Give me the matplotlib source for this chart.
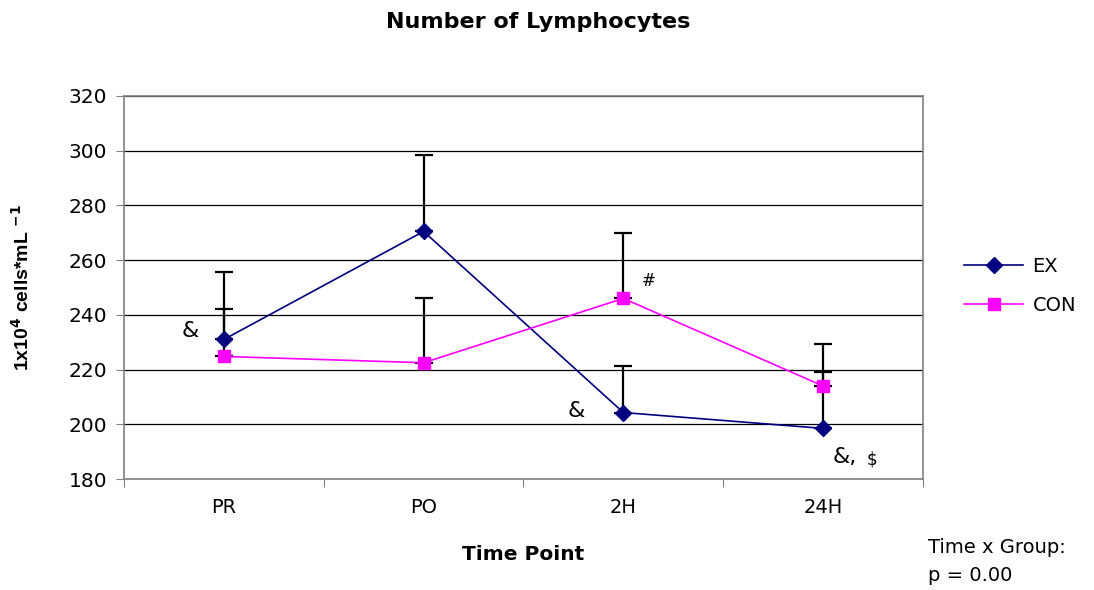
import numpy as np
import matplotlib.pyplot as plt

# the reference text is wide, DejaVu Sans gets closer than Arial-like fonts
plt.rcParams['font.family'] = ['DejaVu Sans']

# data
time_points = ['PR', 'PO', '2H', '24H']
ex_mean = [231.0, 270.5, 204.3, 198.5]
ex_err = [24.5, 28.0, 17.0, 20.5]
con_mean = [224.8, 222.5, 246.0, 214.0]
con_err = [17.5, 23.5, 24.0, 15.5]

x = np.arange(len(time_points))

fig = plt.figure(figsize=(10.94, 5.90), dpi=100)
ax = fig.add_axes([0.1133, 0.1881, 0.7304, 0.6492])

# error bars (upper only), drawn under the markers
ax.errorbar(x, ex_mean, yerr=[np.zeros(4), ex_err], fmt='none', ecolor='black',
            elinewidth=1.6, capsize=6.5, capthick=1.6, zorder=3)
ax.errorbar(x, con_mean, yerr=[np.zeros(4), con_err], fmt='none', ecolor='black',
            elinewidth=1.6, capsize=6.5, capthick=1.6, zorder=3)

ax.plot(x, ex_mean, color='#000080', marker='D', markersize=8, lw=1.2,
        label='EX', zorder=4)
ax.plot(x, con_mean, color='#FF00FF', marker='s', markersize=8, lw=1.2,
        label='CON', zorder=5)

ax.set_xlim(-0.5, 3.5)
ax.set_ylim(180, 320)
ax.set_yticks(np.arange(180, 321, 20))
ax.yaxis.grid(True, color='black', lw=0.9)
ax.set_axisbelow(True)

# ticks at category boundaries, labels at centres
ax.set_xticks(np.arange(-0.5, 3.6, 1.0))
ax.set_xticklabels([])
ax.set_xticks(x, minor=True)
ax.set_xticklabels(time_points, minor=True)
ax.tick_params(axis='x', which='minor', length=0, pad=14, labelsize=14)
ax.tick_params(axis='x', which='major', length=6, color='#808080')
ax.tick_params(axis='y', length=6, color='#808080', labelsize=14.5, pad=6)

for s in ax.spines.values():
    s.set_color('#808080')
    s.set_linewidth(1.2)

ax.set_xlabel('Time Point', fontsize=14.5, fontweight='bold', labelpad=20)
ax.set_ylabel(r'1x10$^{\mathbf{4}}$ cells*mL $^{\mathbf{-1}}$', fontsize=14,
              fontweight='bold', labelpad=26, family='Liberation Sans')
fig.text(0.492, 0.963, 'Number of Lymphocytes', ha='center', va='center',
         fontsize=16, fontweight='bold')

# significance markers
ax.text(-0.17, 234.0, '&', fontsize=16, ha='center', va='center')
ax.text(1.765, 205.0, '&', fontsize=16, ha='center', va='center')
ax.text(2.125, 252.5, '#', fontsize=12, ha='center', va='center')
ax.text(3.05, 188.0, '&,', fontsize=16, ha='left', va='center')
ax.text(3.245, 187.3, r'\$', fontsize=12, ha='center', va='center')

leg = ax.legend(loc='center left', bbox_to_anchor=(1.03, 0.504), frameon=False,
                fontsize=14, handlelength=3.0, labelspacing=1.0, handletextpad=0.5)

fig.text(0.848, 0.072, 'Time x Group:', fontsize=14, ha='left', va='center')
fig.text(0.848, 0.024, 'p = 0.00', fontsize=14, ha='left', va='center')

fig.savefig('out.png', dpi=100)
